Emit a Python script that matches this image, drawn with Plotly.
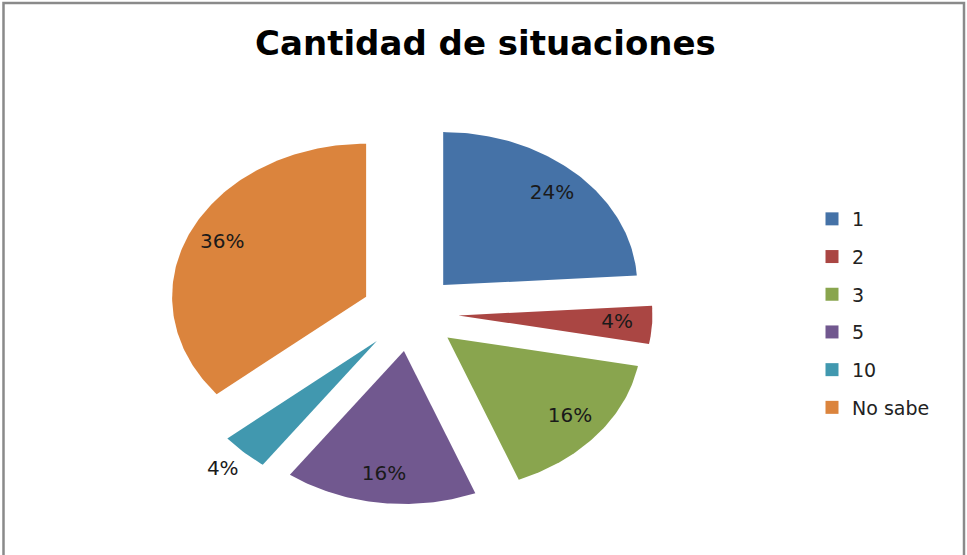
import numpy as np
import plotly.graph_objects as go

# Data
categories = ["1", "2", "3", "5", "10", "No sabe"]
percentages = [24, 4, 16, 16, 4, 36]
colors = ["#4572A7", "#AA4643", "#89A54E", "#71588F", "#4198AF", "#DB843D"]
title_text = "Cantidad de situaciones"

# Layout geometry (pixels)
W, H = 967, 555
CX, CY = 410, 313          # pie centre
RX, RY = 194, 153          # horizontal / vertical radius (elliptical pie)
EXPLODE = 0.25             # slice offset, fraction of radius
LABEL_R_IN = 0.82
LABEL_R_OUT = 1.16
outside_labels = {"10"}

fig = go.Figure()

total = float(sum(percentages))
start = 0.0
label_x, label_y, label_t = [], [], []
for cat, val, col in zip(categories, percentages, colors):
    frac = val / total
    a0 = start * 2 * np.pi
    a1 = (start + frac) * 2 * np.pi
    mid = (a0 + a1) / 2
    ox, oy = EXPLODE * np.sin(mid), EXPLODE * np.cos(mid)
    t = np.linspace(a0, a1, max(8, int(frac * 400)))
    xs = np.concatenate([[ox], ox + np.sin(t), [ox]])
    ys = np.concatenate([[oy], oy + np.cos(t), [oy]])
    fig.add_trace(go.Scatter(
        x=xs, y=ys, mode="lines", fill="toself", fillcolor=col,
        line=dict(width=0, color=col), showlegend=False, hoverinfo="skip",
    ))
    r = LABEL_R_OUT if cat in outside_labels else LABEL_R_IN
    label_x.append(ox + r * np.sin(mid))
    label_y.append(oy + r * np.cos(mid))
    label_t.append(f"{round(frac * 100)}%")
    start += frac

# Percentage labels
fig.add_trace(go.Scatter(
    x=label_x, y=label_y, text=label_t, mode="text",
    textfont=dict(family="DejaVu Sans", size=20, color="#1a1a1a"),
    showlegend=False, hoverinfo="skip",
))

# Legend entries
for i, (cat, col) in enumerate(zip(categories, colors)):
    fig.add_trace(go.Scatter(
        x=[None], y=[None], mode="markers", name=cat,
        marker=dict(symbol="square", size=13, color=col),
        legendgroup=f"g{i}",
    ))

fig.update_layout(
    width=W, height=H,
    margin=dict(l=0, r=0, t=0, b=0),
    paper_bgcolor="white", plot_bgcolor="white",
    xaxis=dict(range=[-CX / RX, (W - CX) / RX], visible=False, fixedrange=True),
    yaxis=dict(range=[-(H - CY) / RY, CY / RY], visible=False, fixedrange=True),
    title=dict(
        text=title_text, x=0.502, xanchor="center",
        y=1 - 43 / H, yanchor="middle", yref="container",
        font=dict(family="DejaVu Sans", size=34, color="black", weight="bold"),
    ),
    legend=dict(
        x=812 / W, y=1 - 200 / H, xanchor="left", yanchor="top",
        font=dict(family="DejaVu Sans", size=19, color="#222222"),
        tracegroupgap=10, bgcolor="rgba(0,0,0,0)",
    ),
    shapes=[dict(
        type="rect", xref="paper", yref="paper",
        x0=3.5 / W, x1=964 / W, y0=-0.05, y1=1 - 3 / H,
        line=dict(color="#8a8a8a", width=2.5),
    )],
)

fig.write_html("out.html")
